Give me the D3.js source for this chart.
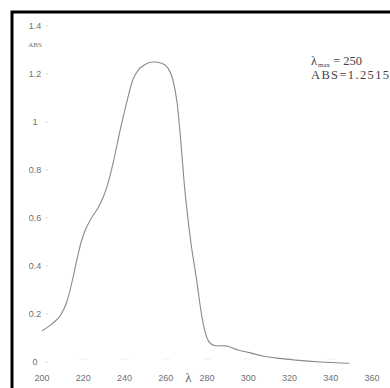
<!DOCTYPE html>
<meta charset="utf-8">
<style>
body { margin: 0; background: #fff; }
.tick-label { font-family: "Liberation Sans", sans-serif; font-size: 9px; fill: #707070; }
.note { font-family: "Liberation Serif", serif; fill: #444; }
</style>
<svg width="390" height="388"></svg>
<script src="https://d3js.org/d3.v7.min.js"></script>
<script>

var wavelength = [200, 205, 209, 212, 215, 217, 219, 221, 224, 228, 231.5, 234.5, 238, 241, 244, 247, 250, 254, 258, 261, 263.5, 265.5, 267, 269, 272, 275, 277.5, 280, 282, 284, 289, 295, 300, 307, 315, 323, 335, 349];
var absorbance = [0.13, 0.16, 0.195, 0.25, 0.35, 0.43, 0.50, 0.55, 0.60, 0.655, 0.73, 0.83, 0.97, 1.08, 1.175, 1.22, 1.24, 1.25, 1.245, 1.225, 1.175, 1.08, 0.95, 0.74, 0.51, 0.34, 0.19, 0.10, 0.075, 0.068, 0.067, 0.05, 0.04, 0.025, 0.015, 0.008, 0.0, -0.005];
var xTicks = [200, 220, 240, 260, 280, 300, 320, 340, 360];
var yTicks = [0, 0.2, 0.4, 0.6, 0.8, 1, 1.2, 1.4];

var svg = d3.select("svg");

var x = d3.scaleLinear().domain([200, 360]).range([42, 372]),
    y = d3.scaleLinear().domain([0, 1.4]).range([362, 26]);

// frame (only top and left edges are visible)
svg.append("path")
    .attr("d", "M12,388V12H390")
    .attr("fill", "none")
    .attr("stroke", "#000")
    .attr("stroke-width", 3);

// y tick labels
svg.selectAll(".ylab")
    .data(yTicks)
    .enter().append("text")
    .attr("class", "tick-label")
    .attr("x", 35)
    .attr("y", function(d) { return y(d); })
    .attr("dy", "0.35em")
    .attr("text-anchor", "middle")
    .text(function(d) { return d; });

// faint tick dashes
svg.selectAll(".ytick")
    .data(yTicks)
    .enter().append("line")
    .attr("x1", 45).attr("x2", 48)
    .attr("y1", function(d) { return y(d); })
    .attr("y2", function(d) { return y(d); })
    .attr("stroke", "#ddd");

svg.append("text")
    .attr("class", "tick-label")
    .attr("x", 35)
    .attr("y", 47)
    .attr("text-anchor", "middle")
    .style("font-family", "Liberation Serif, serif")
    .style("font-size", "7px")
    .text("ABS");

// x tick labels
svg.selectAll(".xlab")
    .data(xTicks)
    .enter().append("text")
    .attr("class", "tick-label")
    .attr("x", function(d) { return x(d); })
    .attr("y", 381)
    .attr("text-anchor", "middle")
    .text(function(d) { return d; });

svg.selectAll(".xtick")
    .data(xTicks.slice(1, -1))
    .enter().append("line")
    .attr("x1", function(d) { return x(d) - 4; })
    .attr("x2", function(d) { return x(d) + 4; })
    .attr("y1", y(0) - 3)
    .attr("y2", y(0) - 3)
    .attr("stroke", "#eee");

svg.append("text")
    .attr("class", "note")
    .attr("x", x(270) + 2)
    .attr("y", 382)
    .attr("text-anchor", "middle")
    .style("font-size", "13px")
    .style("fill", "#666")
    .text("λ");

// spectrum
var line = d3.line()
    .x(function(d, i) { return x(wavelength[i]); })
    .y(function(d) { return y(d); })
    .curve(d3.curveMonotoneX);

svg.append("path")
    .datum(absorbance)
    .attr("fill", "none")
    .attr("stroke", "#8a8a8a")
    .attr("stroke-width", 1.1)
    .attr("d", line);

// annotation
var note = svg.append("text")
    .attr("class", "note")
    .attr("x", 311)
    .attr("y", 65)
    .style("font-size", "12.5px");
note.append("tspan").text("λ");
note.append("tspan").attr("dx", 1).attr("dy", 1.5).style("font-size", "7px").text("max");
note.append("tspan").attr("dx", 3).attr("dy", -1.5).text("= 250");

svg.append("text")
    .attr("class", "note")
    .attr("x", 311)
    .attr("y", 78.5)
    .style("font-size", "12.5px")
    .attr("textLength", 78)
    .text("ABS=1.2515");

</script>
